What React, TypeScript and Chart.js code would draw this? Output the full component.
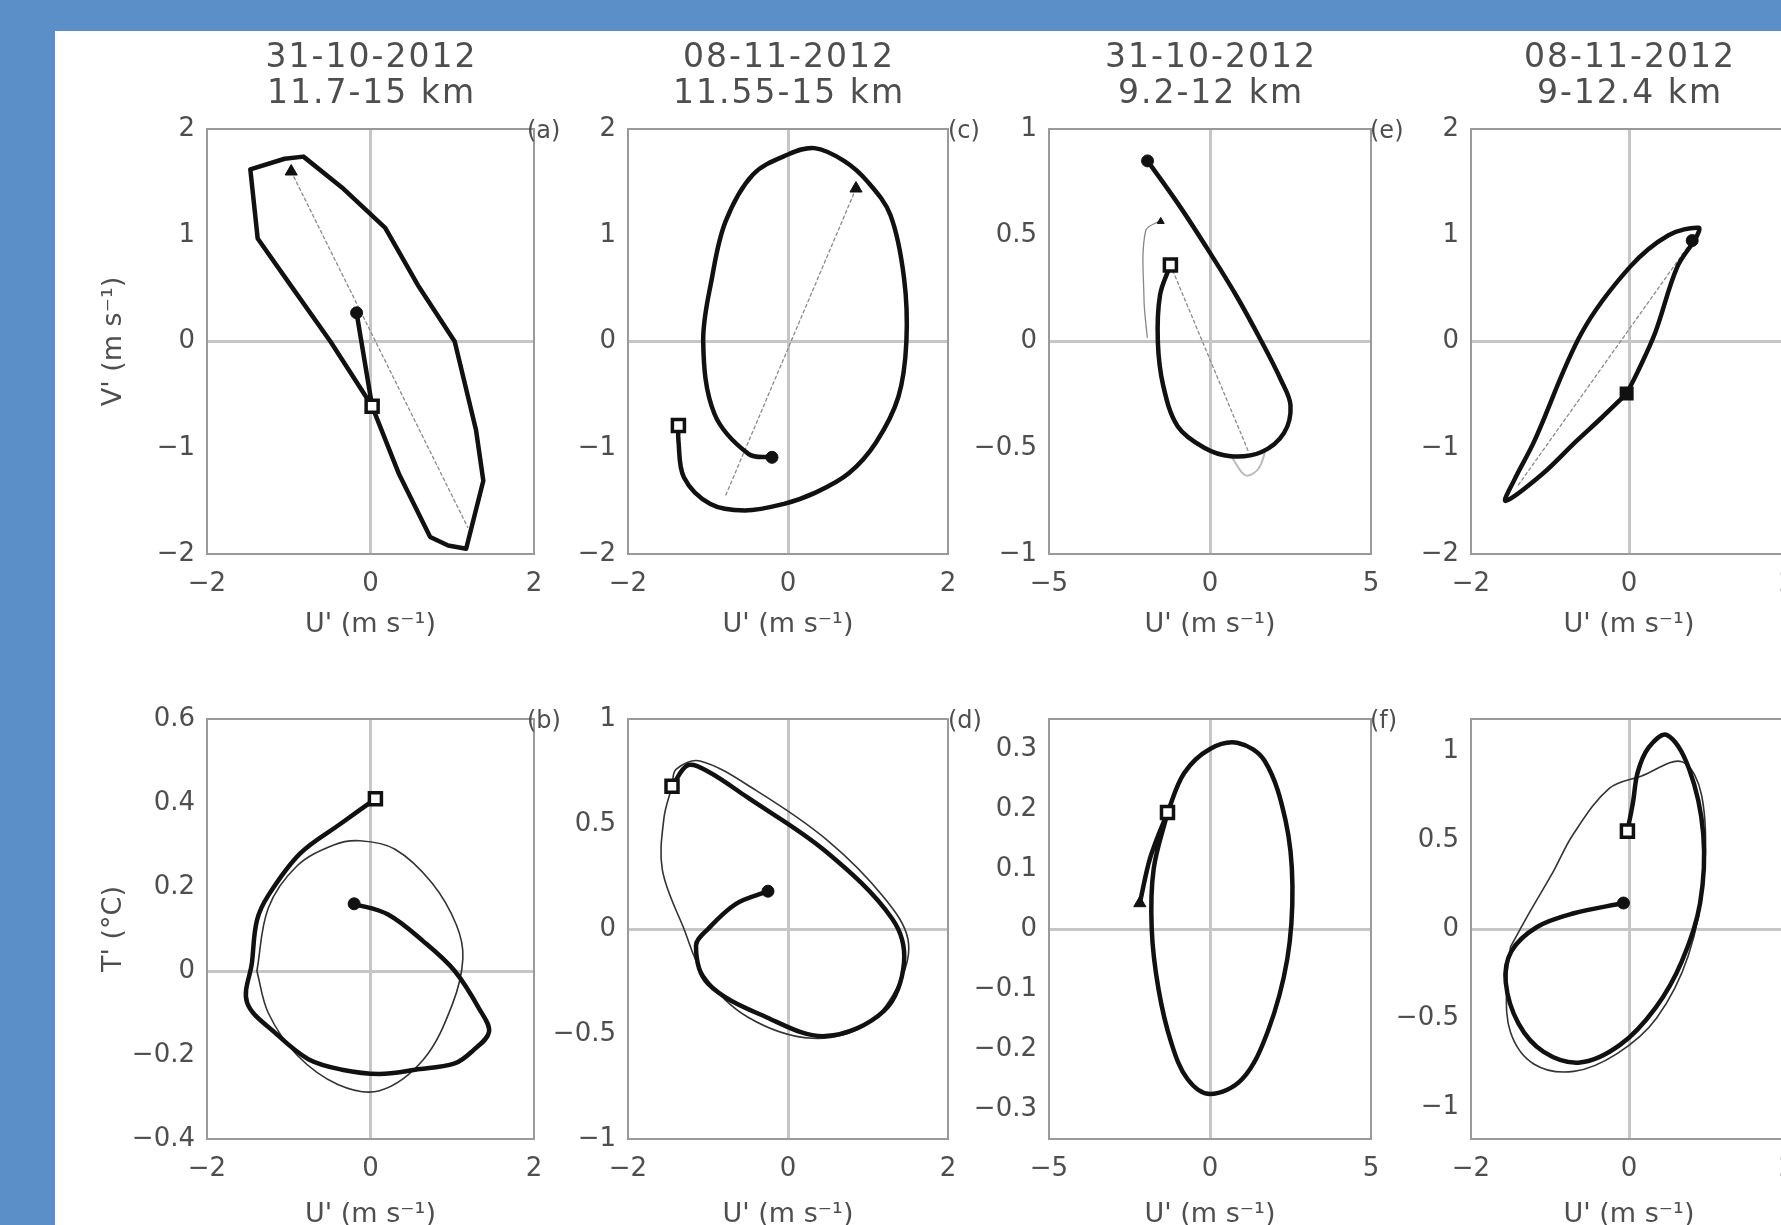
import React, { useEffect, useRef } from "react";
import { Chart, registerables } from "chart.js";

Chart.register(...registerables);

const FONT = "'DejaVu Sans', 'Liberation Sans', Arial, sans-serif";
const TEXT = "#4e4e4e";
const BLUE = "#5b8fc7";

// ---------- text ----------
const dateLabels = ["31-10-2012", "08-11-2012", "31-10-2012", "08-11-2012"];
const heightLabels = ["11.7-15 km", "11.55-15 km", "9.2-12 km", "9-12.4 km"];
const panelLetters = ["", "(a)", "(c)", "(e)", "", "(b)", "(d)", "(f)"];
const uTitle = "U' (m s\u207B\u00B9)";
const vTitle = "V' (m s\u207B\u00B9)";
const tTitle = "T' (\u00B0C)";

// ---------- tick labels ----------
const uTicks2 = [-2, 0, 2];
const uTicks5 = [-5, 0, 5];
const vTicks2 = [-2, -1, 0, 1, 2];
const vTicks1 = [-1, -0.5, 0, 0.5, 1];
const tTicks5 = [-0.4, -0.2, 0, 0.2, 0.4, 0.6];
const tTicks6 = [-1, -0.5, 0, 0.5, 1];
const tTicks7 = [-0.3, -0.2, -0.1, 0, 0.1, 0.2, 0.3];
const tTicks8 = [-1, -0.5, 0, 0.5, 1];

// ---------- panel 1: 31-10-2012, 11.7-15 km (U', V') ----------
const p1ThickU = [-0.17, 0.02, 0.35, 0.73, 0.95, 1.17, 1.38, 1.29, 1.03, 0.58, 0.18, -0.35, -0.82, -1.05, -1.47, -1.38, -0.95, -0.49, 0.02];
const p1ThickV = [0.27, -0.61, -1.25, -1.84, -1.92, -1.95, -1.31, -0.83, 0.0, 0.53, 1.07, 1.45, 1.74, 1.72, 1.62, 0.97, 0.5, 0.0, -0.61];
const p1AxisU = [-0.97, 1.19];
const p1AxisV = [1.6, -1.75];
const p1Start = [-0.17, 0.27];
const p1End = [0.02, -0.61];
const p1Arrow = [-0.97, 1.6];

// ---------- panel 2: 08-11-2012, 11.55-15 km (U', V') ----------
const p2ThickU = [-0.2, -0.49, -0.92, -1.06, -0.95, -0.78, -0.44, 0.0, 0.33, 0.7, 1.0, 1.28, 1.45, 1.48, 1.38, 1.1, 0.76, 0.35, -0.06, -0.54, -0.97, -1.3, -1.37, -1.37];
const p2ThickV = [-1.09, -1.06, -0.68, 0.0, 0.6, 1.13, 1.57, 1.76, 1.82, 1.7, 1.5, 1.19, 0.6, 0.0, -0.52, -0.95, -1.24, -1.42, -1.53, -1.59, -1.53, -1.28, -0.93, -0.79];
const p2AxisU = [0.85, -0.78];
const p2AxisV = [1.44, -1.45];
const p2Start = [-0.2, -1.09];
const p2End = [-1.37, -0.79];
const p2Arrow = [0.85, 1.44];

// ---------- panel 3: 31-10-2012, 9.2-12 km (U', V') ----------
const p3ThickU = [-1.94, -1.0, -0.18, 0.8, 1.6, 2.2, 2.5, 2.3, 1.6, 0.64, -0.18, -1.0, -1.45, -1.62, -1.55, -1.23];
const p3ThickV = [0.85, 0.65, 0.46, 0.22, 0.0, -0.18, -0.3, -0.43, -0.52, -0.54, -0.5, -0.4, -0.21, 0.0, 0.22, 0.36];
const p3ThinU = [-1.53, -2.0, -2.05, -1.95];
const p3ThinV = [0.57, 0.52, 0.2, 0.02];
const p3LoopU = [0.7, 1.1, 1.5, 1.75];
const p3LoopV = [-0.55, -0.63, -0.6, -0.5];
const p3AxisU = [-1.23, 1.2];
const p3AxisV = [0.36, -0.52];
const p3Start = [-1.94, 0.85];
const p3End = [-1.23, 0.36];
const p3Arrow = [-1.53, 0.565];

// ---------- panel 4: 08-11-2012, 9-12.4 km (U', V') ----------
const p4ThickU = [-0.03, -0.35, -0.67, -1.1, -1.56, -1.45, -1.2, -0.6, 0.01, 0.5, 0.88, 0.85, 0.61, 0.33, 0.1, -0.03];
const p4ThickV = [-0.49, -0.72, -0.94, -1.25, -1.5, -1.3, -0.94, 0.08, 0.7, 1.0, 1.07, 0.98, 0.7, 0.08, -0.3, -0.49];
const p4AxisU = [-1.4, 0.8];
const p4AxisV = [-1.35, 0.95];
const p4Start = [0.8, 0.95];
const p4End = [-0.03, -0.49];

// ---------- panel 5: 31-10-2012 (U', T') ----------
const p5ThickU = [-0.2, 0.21, 0.65, 1.03, 1.33, 1.45, 1.25, 1.03, 0.55, 0.11, -0.35, -0.76, -1.15, -1.51, -1.45, -1.39, -1.25, -0.86, -0.37, 0.06];
const p5ThickT = [0.16, 0.135, 0.07, 0.0, -0.09, -0.145, -0.19, -0.22, -0.235, -0.245, -0.235, -0.21, -0.15, -0.075, 0.02, 0.12, 0.18, 0.28, 0.35, 0.41];
const p5ThinU = [-1.39, -1.25, -0.9, -0.45, -0.13, 0.3, 0.75, 1.05, 1.13, 1.0, 0.65, 0.11, -0.4, -0.9, -1.25, -1.39];
const p5ThinT = [0.0, 0.15, 0.25, 0.3, 0.31, 0.29, 0.21, 0.11, 0.03, -0.08, -0.21, -0.285, -0.27, -0.2, -0.1, 0.0];
const p5Start = [-0.2, 0.16];
const p5End = [0.06, 0.41];

// ---------- panel 6: 08-11-2012 (U', T') ----------
const p6ThickU = [-0.25, -0.65, -1.0, -1.15, -1.0, -0.27, 0.47, 1.2, 1.45, 1.3, 0.47, -0.52, -1.0, -1.25, -1.45];
const p6ThickT = [0.18, 0.12, 0.0, -0.08, -0.26, -0.42, -0.51, -0.39, -0.16, 0.05, 0.37, 0.63, 0.75, 0.78, 0.68];
const p6ThinU = [-1.45, -1.55, -1.57, -1.3, -1.05, -0.5, 0.3, 1.0, 1.4, 1.5, 1.2, 0.5, -0.4, -1.1, -1.4, -1.45];
const p6ThinT = [0.68, 0.53, 0.28, 0.0, -0.22, -0.42, -0.52, -0.45, -0.25, -0.05, 0.15, 0.42, 0.66, 0.8, 0.76, 0.68];
const p6Start = [-0.25, 0.18];
const p6End = [-1.45, 0.68];

// ---------- panel 7: 31-10-2012 (U', T') ----------
const p7ThickU = [-2.18, -1.85, -1.32, -0.8, 0.0, 0.87, 1.7, 2.35, 2.56, 2.4, 1.8, 1.0, 0.0, -0.7, -1.2, -1.6, -1.81, -1.75, -1.32];
const p7ThickT = [0.043, 0.12, 0.194, 0.26, 0.3, 0.31, 0.28, 0.18, 0.072, -0.05, -0.17, -0.25, -0.275, -0.25, -0.19, -0.1, 0.0, 0.1, 0.194];
const p7Start = [-2.18, 0.043];
const p7End = [-1.32, 0.194];

// ---------- panel 8: 08-11-2012 (U', T') ----------
const p8ThickU = [-0.07, -0.71, -1.17, -1.49, -1.56, -1.4, -1.08, -0.62, -0.11, 0.34, 0.67, 0.9, 0.94, 0.76, 0.48, 0.25, 0.11, 0.05, -0.02];
const p8ThickT = [0.146, 0.087, 0.01, -0.126, -0.3, -0.53, -0.69, -0.75, -0.65, -0.44, -0.18, 0.146, 0.534, 0.9, 1.09, 1.02, 0.88, 0.71, 0.55];
const p8ThinU = [-1.5, -1.25, -0.95, -0.71, -0.25, 0.16, 0.67, 0.92, 0.95, 0.75, 0.35, -0.15, -0.7, -1.2, -1.5, -1.55, -1.5];
const p8ThinT = [-0.1, 0.1, 0.33, 0.53, 0.79, 0.86, 0.94, 0.75, 0.3, -0.15, -0.5, -0.7, -0.8, -0.76, -0.58, -0.3, -0.1];
const p8Start = [-0.07, 0.146];
const p8End = [-0.02, 0.55];

// ---------- layout (page pixels) ----------
const colLeft = [207, 628, 1049, 1471];
const colWidth = [327, 320, 322, 316];
const rowTop = [129, 719];
const rowHeight = [425, 420];

type Line = { u: number[]; v: number[]; color: string; width: number; dash?: number[]; tension: number };
type Marker = { p: number[]; style: string; fill: string; radius: number; borderWidth: number };

interface Spec {
  col: number;
  row: number;
  xMin: number; xMax: number; xTicks: number[];
  yMin: number; yMax: number; yTicks: number[];
  title?: string[];
  yTitle?: string;
  letter: string;
  lines: Line[];
  markers: Marker[];
}

const thick = (u: number[], v: number[], tension = 0.35): Line => ({ u, v, color: "#111", width: 4.5, tension });
const thin = (u: number[], v: number[], color = "#333", width = 1.6): Line => ({ u, v, color, width, tension: 0.35 });
const axisLine = (u: number[], v: number[]): Line => ({ u, v, color: "#8a8a8a", width: 1.3, dash: [3, 3], tension: 0 });
const startM = (p: number[]): Marker => ({ p, style: "circle", fill: "#111", radius: 6, borderWidth: 1 });
const endOpen = (p: number[]): Marker => ({ p, style: "rect", fill: "#fff", radius: 8.5, borderWidth: 3.5 });
const endFilled = (p: number[]): Marker => ({ p, style: "rect", fill: "#111", radius: 8.5, borderWidth: 2 });
const arrowM = (p: number[], r = 7): Marker => ({ p, style: "triangle", fill: "#111", radius: r, borderWidth: 1 });

const specs: Spec[] = [
  {
    col: 0, row: 0, xMin: -2, xMax: 2, xTicks: uTicks2, yMin: -2, yMax: 2, yTicks: vTicks2,
    title: [dateLabels[0], heightLabels[0]], yTitle: vTitle, letter: panelLetters[0],
    lines: [axisLine(p1AxisU, p1AxisV), thick(p1ThickU, p1ThickV, 0)],
    markers: [startM(p1Start), endOpen(p1End), arrowM(p1Arrow)],
  },
  {
    col: 1, row: 0, xMin: -2, xMax: 2, xTicks: uTicks2, yMin: -2, yMax: 2, yTicks: vTicks2,
    title: [dateLabels[1], heightLabels[1]], letter: panelLetters[1],
    lines: [axisLine(p2AxisU, p2AxisV), thick(p2ThickU, p2ThickV)],
    markers: [startM(p2Start), endOpen(p2End), arrowM(p2Arrow)],
  },
  {
    col: 2, row: 0, xMin: -5, xMax: 5, xTicks: uTicks5, yMin: -1, yMax: 1, yTicks: vTicks1,
    title: [dateLabels[2], heightLabels[2]], letter: panelLetters[2],
    lines: [axisLine(p3AxisU, p3AxisV), thin(p3ThinU, p3ThinV, "#888", 1.3), thin(p3LoopU, p3LoopV, "#bbb", 2), thick(p3ThickU, p3ThickV)],
    markers: [startM(p3Start), endOpen(p3End), arrowM(p3Arrow, 4)],
  },
  {
    col: 3, row: 0, xMin: -2, xMax: 2, xTicks: uTicks2, yMin: -2, yMax: 2, yTicks: vTicks2,
    title: [dateLabels[3], heightLabels[3]], letter: panelLetters[3],
    lines: [axisLine(p4AxisU, p4AxisV), thick(p4ThickU, p4ThickV)],
    markers: [startM(p4Start), endFilled(p4End)],
  },
  {
    col: 0, row: 1, xMin: -2, xMax: 2, xTicks: uTicks2, yMin: -0.4, yMax: 0.6, yTicks: tTicks5,
    yTitle: tTitle, letter: panelLetters[4],
    lines: [thin(p5ThinU, p5ThinT), thick(p5ThickU, p5ThickT)],
    markers: [startM(p5Start), endOpen(p5End)],
  },
  {
    col: 1, row: 1, xMin: -2, xMax: 2, xTicks: uTicks2, yMin: -1, yMax: 1, yTicks: tTicks6,
    letter: panelLetters[5],
    lines: [thin(p6ThinU, p6ThinT), thick(p6ThickU, p6ThickT)],
    markers: [startM(p6Start), endOpen(p6End)],
  },
  {
    col: 2, row: 1, xMin: -5, xMax: 5, xTicks: uTicks5, yMin: -0.35, yMax: 0.35, yTicks: tTicks7,
    letter: panelLetters[6],
    lines: [thick(p7ThickU, p7ThickT)],
    markers: [arrowM(p7Start), endOpen(p7End)],
  },
  {
    col: 3, row: 1, xMin: -2, xMax: 2, xTicks: uTicks2, yMin: -1.18, yMax: 1.18, yTicks: tTicks8,
    letter: panelLetters[7],
    lines: [thin(p8ThinU, p8ThinT), thick(p8ThickU, p8ThickT)],
    markers: [startM(p8Start), endOpen(p8End)],
  },
];

const fmt = (v: number | string) => {
  const n = Math.round(Number(v) * 100) / 100;
  if (n === 0) return "0";
  return (n < 0 ? "\u2212" : "") + String(Math.abs(n));
};

const zeroGrid = (ctx: any) =>
  ctx.tick && Math.abs(ctx.tick.value) < 1e-9 ? "#c6c6c6" : "rgba(0,0,0,0)";

function Panel({ s }: { s: Spec }) {
  const ref = useRef<HTMLCanvasElement | null>(null);
  const left = colLeft[s.col];
  const top = rowTop[s.row];
  const w = colWidth[s.col];
  const h = rowHeight[s.row];
  const canvasTop = s.row === 0 ? 31 : top - 40;
  const canvasLeft = s.col === 0 ? 80 : left - 112;
  const wy = left - canvasLeft;
  const hx = s.row === 0 ? 87 : 92;
  const padRight = 24;
  const W = wy + w + padRight;
  const H = top - canvasTop + h + hx;

  useEffect(() => {
    if (!ref.current) return;
    const datasets: any[] = [];
    s.markers.forEach((m) => {
      datasets.push({
        data: [{ x: m.p[0], y: m.p[1] }],
        showLine: false,
        pointStyle: m.style,
        pointRadius: m.radius,
        pointBackgroundColor: m.fill,
        pointBorderColor: "#111",
        pointBorderWidth: m.borderWidth,
      });
    });
    [...s.lines].reverse().forEach((l) => {
      datasets.push({
        data: l.u.map((x, i) => ({ x, y: l.v[i] })),
        showLine: true,
        borderColor: l.color,
        borderWidth: l.width,
        borderDash: l.dash || [],
        tension: l.tension,
        pointRadius: 0,
        fill: false,
        borderCapStyle: "round",
        borderJoinStyle: "round",
      });
    });

    const framePlugin = {
      id: "frame" + s.col + s.row,
      beforeDatasetsDraw(chart: any) {
        const { ctx, chartArea: a } = chart;
        ctx.save();
        ctx.strokeStyle = "#9a9a9a";
        ctx.lineWidth = 2;
        ctx.strokeRect(a.left, a.top, a.right - a.left, a.bottom - a.top);
        ctx.restore();
      },
      afterDraw(chart: any) {
        const { ctx, chartArea: a } = chart;
        ctx.save();
        ctx.fillStyle = TEXT;
        if (s.letter) {
          ctx.font = `24px ${FONT}`;
          ctx.textAlign = "left";
          ctx.textBaseline = "middle";
          ctx.fillText(s.letter, a.left - 101, a.top + 3);
        }
        if (s.title) {
          ctx.font = `33px ${FONT}`;
          ctx.textAlign = "center";
          ctx.textBaseline = "middle";
          try {
            (ctx as any).letterSpacing = "2px";
          } catch (e) {}
          const cx = (a.left + a.right) / 2 + 1;
          ctx.fillText(s.title[0], cx, 58 - 31);
          ctx.fillText(s.title[1], cx, 94 - 31);
        }
        ctx.restore();
      },
    };

    const chart = new Chart(ref.current, {
      type: "scatter",
      data: { datasets },
      plugins: [framePlugin],
      options: {
        animation: false,
        responsive: false,
        devicePixelRatio: 1,
        events: [],
        layout: { padding: { top: top - canvasTop, left: 0, right: padRight, bottom: 0 } },
        plugins: {
          legend: { display: false },
          tooltip: { enabled: false },
          title: { display: false },
        },
        scales: {
          x: {
            type: "linear",
            position: "bottom",
            min: s.xMin,
            max: s.xMax,
            afterBuildTicks: (sc: any) => {
              sc.ticks = s.xTicks.map((v) => ({ value: v }));
            },
            afterFit: (sc: any) => {
              sc.height = hx;
            },
            ticks: {
              autoSkip: false,
              maxRotation: 0,
              padding: 15,
              color: TEXT,
              font: { family: FONT, size: 26 },
              callback: (v: any) => fmt(v),
            },
            grid: { color: zeroGrid, lineWidth: 3, drawTicks: false },
            border: { display: false },
            title: {
              display: true,
              text: uTitle,
              color: TEXT,
              font: { family: FONT, size: 27 },
              padding: { top: 0, bottom: 0 },
            },
          },
          y: {
            type: "linear",
            position: "left",
            min: s.yMin,
            max: s.yMax,
            afterBuildTicks: (sc: any) => {
              sc.ticks = s.yTicks.map((v) => ({ value: v }));
            },
            afterFit: (sc: any) => {
              sc.width = wy;
            },
            ticks: {
              autoSkip: false,
              padding: 12,
              color: TEXT,
              font: { family: FONT, size: 26 },
              callback: (v: any) => fmt(v),
            },
            grid: { color: zeroGrid, lineWidth: 3, drawTicks: false },
            border: { display: false },
            title: {
              display: !!s.yTitle,
              text: s.yTitle || "",
              color: TEXT,
              font: { family: FONT, size: 27 },
              padding: { top: 18, bottom: 0 },
            },
          },
        },
      } as any,
    });
    return () => chart.destroy();
  }, [s]);

  return (
    <canvas
      ref={ref}
      width={W}
      height={H}
      style={{ position: "absolute", left: canvasLeft, top: canvasTop, width: W, height: H }}
    />
  );
}

export default function App() {
  return (
    <div
      style={{
        position: "fixed",
        left: 0,
        top: 0,
        width: 1781,
        height: 1225,
        overflow: "hidden",
        background: BLUE,
      }}
    >
      <div style={{ position: "absolute", left: 55, top: 31, right: 0, bottom: 0, background: "#fff" }} />
      {specs.map((s, i) => (
        <Panel key={i} s={s} />
      ))}
    </div>
  );
}
